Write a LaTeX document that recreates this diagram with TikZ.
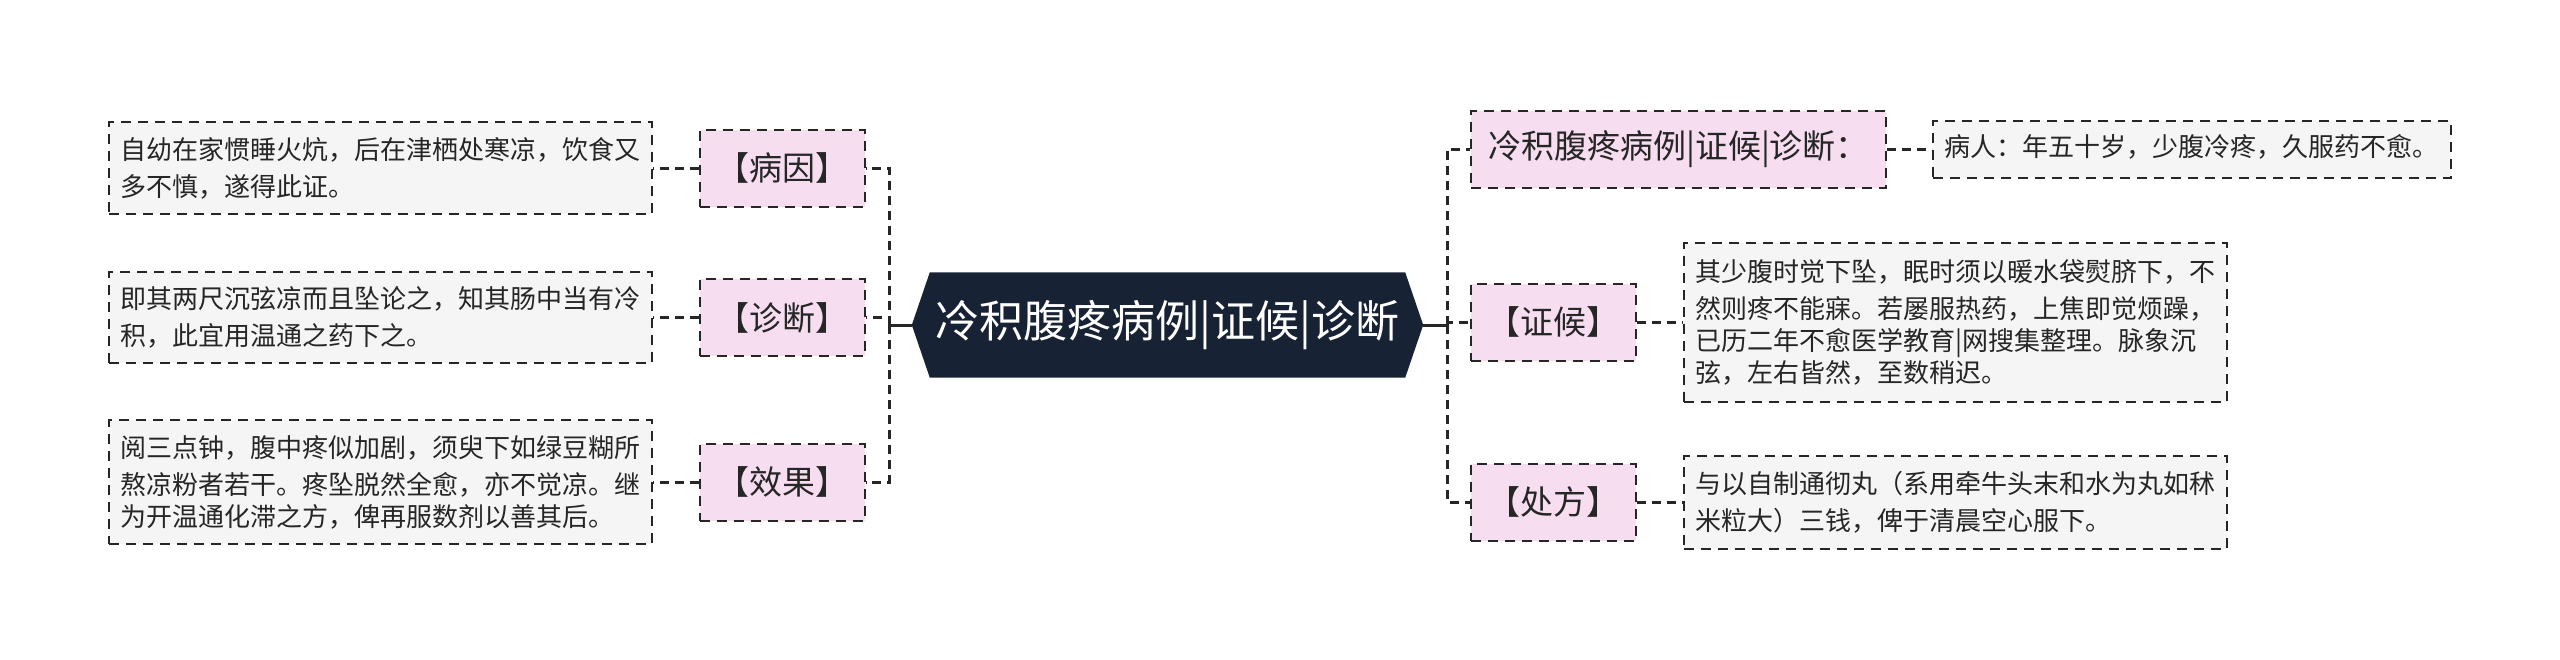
\documentclass[tikz,border=0pt]{standalone}
\usepackage{fontspec}
\newfontfamily\cjk{Noto Sans CJK SC}
\usetikzlibrary{backgrounds}
\definecolor{navy}{HTML}{172234}
\definecolor{pinkfill}{HTML}{F6DDF0}
\definecolor{grayfill}{HTML}{F5F5F5}
\definecolor{ink}{HTML}{262626}
\begin{document}
\begin{tikzpicture}[x=1pt,y=-1pt,
  txt/.style={draw=ink, fill=grayfill, line width=2pt, dash pattern=on 10pt off 7pt,
    font=\cjk\fontsize{26}{32}\selectfont, text=ink, align=left,
    inner xsep=11.5pt, inner ysep=0pt, minimum width=543pt, text width=520pt,
    execute at begin node={\vspace*{5pt}}},
  tag/.style={draw=ink, fill=pinkfill, line width=2pt, dash pattern=on 10pt off 7pt,
    font=\cjk\fontsize{33}{40}\selectfont, text=ink, inner sep=0pt,
    minimum width=165pt, minimum height=77pt},
  hub/.style={font=\cjk\fontsize{44}{50}\selectfont, text=white, inner sep=0pt,
    minimum width=511pt, minimum height=105pt},
  conn/.style={draw=ink, line width=3pt, dash pattern=on 9pt off 6pt},
  trunk/.style={draw=ink, line width=3pt}]
\useasboundingbox (0,0) rectangle (2560,659);

% central
\node[hub] (c) at (1167.5,325) {冷积腹疼病例|证候|诊断};

% left side
\node[tag] (b1) at (782,168) {【病因】};
\node[tag] (b2) at (782,317.5) {【诊断】};
\node[tag] (b3) at (782,482) {【效果】};
\node[txt, minimum height=92pt] (t1) at (380.5,168)
  {自幼在家惯睡火炕，后在津栖处寒凉，饮食又\\多不慎，遂得此证。};
\node[txt, minimum height=91pt] (t2) at (380.5,317.5)
  {即其两尺沉弦凉而且坠论之，知其肠中当有冷\\积，此宜用温通之药下之。};
\node[txt, minimum height=124pt] (t3) at (380.5,482)
  {阅三点钟，腹中疼似加剧，须臾下如绿豆糊所\\熬凉粉者若干。疼坠脱然全愈，亦不觉凉。继\\为开温通化滞之方，俾再服数剂以善其后。};

% right side
\node[tag, minimum width=415pt] (r1) at (1678.5,149) {冷积腹疼病例|证候|诊断：};
\node[tag] (r2) at (1553.5,322) {【证候】};
\node[tag] (r3) at (1553.5,502) {【处方】};
\node[txt, minimum width=518pt, text width=495pt, minimum height=57pt] (s1) at (2192,149)
  {病人：年五十岁，少腹冷疼，久服药不愈。};
\node[txt, minimum width=542pt, minimum height=159pt] (s2) at (1955,322)
  {其少腹时觉下坠，眠时须以暖水袋熨脐下，不\\然则疼不能寐。若屡服热药，上焦即觉烦躁，\\已历二年不愈医学教育|网搜集整理。脉象沉\\弦，左右皆然，至数稍迟。};
\node[txt, minimum width=542pt, minimum height=93pt] (s3) at (1955,502)
  {与以自制通彻丸（系用牵牛头末和水为丸如秫\\米粒大）三钱，俾于清晨空心服下。};

% junctions
\coordinate (jl) at (889,325);
\coordinate (jr) at (1447,325);

\draw[trunk] (c.west) -- (jl);
\draw[trunk] (c.east) -- (jr);
\draw[conn] (jl) |- (b1.east);
\draw[conn] (jl) |- (b2.east);
\draw[conn] (jl) |- (b3.east);
\draw[conn] (jr) |- (r1.west);
\draw[conn] (jr) |- (r2.west);
\draw[conn] (jr) |- (r3.west);

\draw[conn] (b1.west) -- (t1.east);
\draw[conn] (b2.west) -- (t2.east);
\draw[conn] (b3.west) -- (t3.east);
\draw[conn] (r1.east) -- (s1.west);
\draw[conn] (r2.east) -- (s2.west);
\draw[conn] (r3.east) -- (s3.west);

\begin{scope}[on background layer]
  \fill[white] (0,0) rectangle (2560,659);
  \fill[navy] (c.west) -- ([xshift=18pt]c.north west) -- ([xshift=-18pt]c.north east)
    -- (c.east) -- ([xshift=-18pt]c.south east) -- ([xshift=18pt]c.south west) -- cycle;
\end{scope}
\end{tikzpicture}
\end{document}
